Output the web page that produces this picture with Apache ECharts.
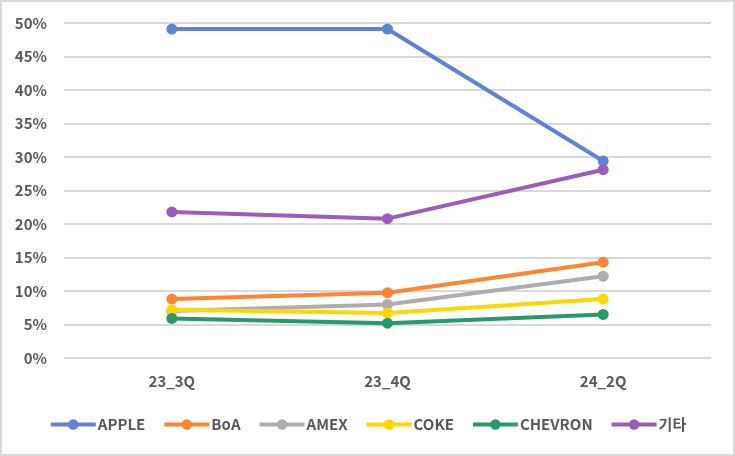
<!DOCTYPE html>
<html><head><meta charset="utf-8">
<script src="https://cdn.jsdelivr.net/npm/echarts@6/dist/echarts.min.js"></script>
<style>html,body{margin:0;padding:0;background:#fff}#c{width:735px;height:456px;box-sizing:border-box;border:2px solid #D9D9D9}</style>
</head><body><div id="c"></div>
<script>
const categories = ['23_3Q', '23_4Q', '24_2Q'];
const seriesNames = ['APPLE', 'BoA', 'AMEX', 'COKE', 'CHEVRON', '기타'];
const apple = [49.1, 49.1, 29.4];
const boa = [8.8, 9.75, 14.3];
const amex = [7.0, 8.0, 12.2];
const coke = [7.2, 6.7, 8.8];
const chevron = [5.9, 5.2, 6.5];
const others = [21.8, 20.8, 28.1];
const yTicks = [0, 5, 10, 15, 20, 25, 30, 35, 40, 45, 50];
const colors = ['#6083D8', '#FF8533', '#ADADAD', '#FFD600', '#27996A', '#9B5CBB'];
const values = [apple, boa, amex, coke, chevron, others];

const chart = echarts.init(document.getElementById('c'));
const font = "'Noto Sans CJK KR', 'Noto Sans', sans-serif";
chart.setOption({
  animation: false,
  color: colors,
  grid: { left: 62, right: 22, top: 21, bottom: 96 },
  legend: {
    bottom: 17,
    left: 'center',
    itemWidth: 45, itemHeight: 13, itemGap: 17,
    lineStyle: { width: 4 },
    textStyle: { fontFamily: font, fontSize: 15, fontWeight: 'bold', color: '#595959', padding: [0, 0, 0, -3] },
    data: seriesNames
  },
  xAxis: {
    type: 'category', data: categories, boundaryGap: true,
    axisLine: { show: false }, axisTick: { show: false },
    axisLabel: { fontFamily: font, fontSize: 15, fontWeight: 'bold', color: '#595959', margin: 16 }
  },
  yAxis: {
    type: 'value', min: yTicks[0], max: yTicks[yTicks.length - 1], interval: 5,
    axisLine: { show: false }, axisTick: { show: false },
    splitLine: { lineStyle: { color: '#D9D9D9', width: 2 } },
    axisLabel: { fontFamily: font, fontSize: 15, fontWeight: 'bold', color: '#595959', margin: 17, formatter: v => v + '%' }
  },
  series: seriesNames.map((n, i) => ({
    name: n, type: 'line', data: values[i],
    symbol: 'circle', symbolSize: 11,
    lineStyle: { width: 4, color: colors[i] },
    itemStyle: { color: colors[i] }
  }))
});
</script></body></html>
